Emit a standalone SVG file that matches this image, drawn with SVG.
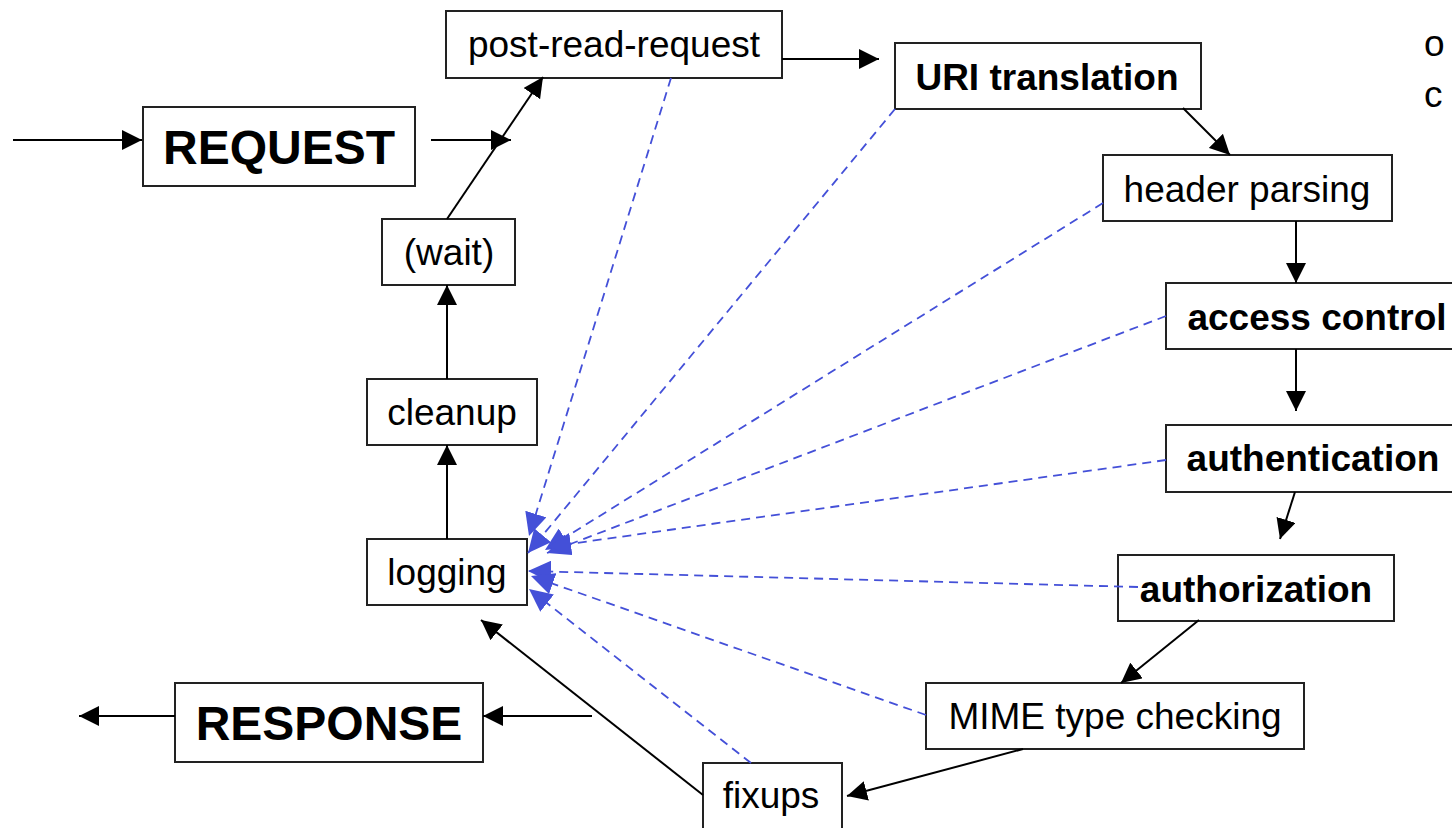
<svg xmlns="http://www.w3.org/2000/svg" width="1452" height="828" viewBox="0 0 1452 828">
<style>
.box{fill:#fff;stroke:#222;stroke-width:2}
.t{font-family:"Liberation Sans",Arial,sans-serif;font-size:37px;fill:#000;text-anchor:middle}
.b{font-weight:bold}
.big{font-size:48px;font-weight:bold}
.solid{stroke:#000;stroke-width:2;fill:none;marker-end:url(#ah)}
.dash{stroke:#4450d8;stroke-width:1.8;fill:none;stroke-dasharray:9 6;marker-end:url(#bh)}
</style>
<defs>
<marker id="ah" markerUnits="userSpaceOnUse" markerWidth="20" markerHeight="20" refX="20" refY="10" orient="auto">
<path d="M0,0 L20,10 L0,20 z" fill="#000"/>
</marker>
<marker id="bh" markerUnits="userSpaceOnUse" markerWidth="24" markerHeight="22" refX="23" refY="11" orient="auto">
<path d="M0,0 L23,11 L0,22 z" fill="#4450d8"/>
</marker>
</defs>
<rect width="1452" height="828" fill="#fff"/>
<g id="n-request"><rect class="box" x="143" y="107" width="272" height="79"/><text class="t big" x="279" y="164">REQUEST</text></g>
<g id="n-post-read-request"><rect class="box" x="446" y="11" width="336" height="67"/><text class="t" x="614" y="57">post-read-request</text></g>
<g id="n-uri-translation"><rect class="box" x="895" y="43" width="306" height="66"/><text class="t b" x="1047" y="90">URI translation</text></g>
<g id="n-header-parsing"><rect class="box" x="1103" y="155" width="289" height="66"/><text class="t" x="1247" y="202">header parsing</text></g>
<g id="n-access-control"><rect class="box" x="1166" y="283" width="300" height="66"/><text class="t b" x="1317" y="330">access control</text></g>
<g id="n-authentication"><rect class="box" x="1166" y="425" width="300" height="67"/><text class="t b" x="1313" y="471">authentication</text></g>
<g id="n-authorization"><rect class="box" x="1118" y="555" width="276" height="66"/><text class="t b" x="1256" y="602">authorization</text></g>
<g id="n-mime"><rect class="box" x="926" y="683" width="378" height="66"/><text class="t" x="1115" y="729">MIME type checking</text></g>
<g id="n-fixups"><rect class="box" x="703" y="763" width="139" height="80"/><text class="t" x="771" y="808">fixups</text></g>
<g id="n-logging"><rect class="box" x="367" y="539" width="160" height="66"/><text class="t" x="447" y="585">logging</text></g>
<g id="n-cleanup"><rect class="box" x="367" y="379" width="170" height="66"/><text class="t" x="452" y="425">cleanup</text></g>
<g id="n-wait"><rect class="box" x="382" y="219" width="133" height="66"/><text class="t" x="449" y="265">(wait)</text></g>
<g id="n-response"><rect class="box" x="175" y="683" width="308" height="79"/><text class="t big" x="329" y="740">RESPONSE</text></g>
<g id="side-text"><text class="t" x="1424" y="56" style="text-anchor:start">o</text><text class="t" x="1424" y="107" style="text-anchor:start">c</text></g>
<g id="connectors">
<line class="solid" x1="13" y1="140" x2="142" y2="140"/>
<line class="solid" x1="431" y1="140" x2="511" y2="140"/>
<line class="solid" x1="447" y1="219" x2="543" y2="77"/>
<line class="solid" x1="782" y1="59" x2="879" y2="59"/>
<line class="solid" x1="1183" y1="108" x2="1230" y2="155"/>
<line class="solid" x1="1296" y1="221" x2="1296" y2="283"/>
<line class="solid" x1="1296" y1="349" x2="1296" y2="411"/>
<line class="solid" x1="1295" y1="492" x2="1280" y2="539"/>
<line class="solid" x1="1199" y1="620" x2="1121" y2="683"/>
<line class="solid" x1="1023" y1="749" x2="847" y2="796"/>
<line class="solid" x1="703" y1="795" x2="481" y2="620"/>
<line class="solid" x1="592" y1="716" x2="483" y2="716"/>
<line class="solid" x1="175" y1="716" x2="79" y2="716"/>
<line class="solid" x1="447" y1="539" x2="447" y2="445"/>
<line class="solid" x1="447" y1="379" x2="447" y2="285"/>
<line class="dash" x1="671" y1="78" x2="529" y2="536"/>
<line class="dash" x1="895" y1="109" x2="528" y2="553"/>
<line class="dash" x1="1103" y1="203" x2="545" y2="550"/>
<line class="dash" x1="1166" y1="316" x2="547" y2="553"/>
<line class="dash" x1="1166" y1="460" x2="548" y2="547"/>
<line class="dash" x1="1138" y1="587" x2="528" y2="571"/>
<line class="dash" x1="926" y1="715" x2="531" y2="576"/>
<line class="dash" x1="751" y1="763" x2="529" y2="589"/>
</g>
</svg>
